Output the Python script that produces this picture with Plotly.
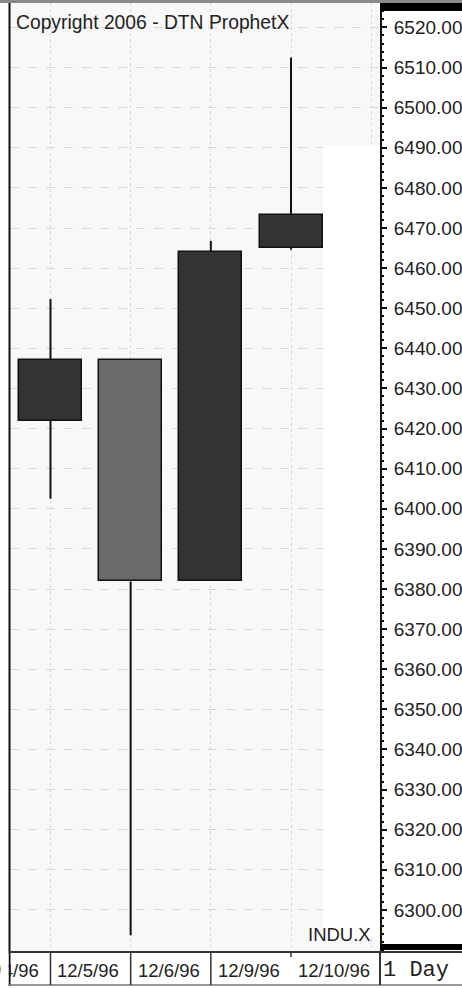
import plotly.graph_objects as go

# daily bars, DJIA (INDU.X), Dec 1996
dates = ["12/4/96", "12/5/96", "12/6/96", "12/9/96", "12/10/96"]
candle_pos = [1, 2, 3, 4]
opens = [6422.0, 6437.1, 6381.9, 6465.0]
highs = [6452.3, 6437.1, 6466.8, 6512.5]
lows = [6402.5, 6293.7, 6381.9, 6464.6]
closes = [6437.1, 6381.9, 6463.9, 6473.3]
price_ticks = list(range(6300, 6521, 10))

W_FIG, H_FIG = 462, 988
L, R, T, B = 10, 380, 3, 952
X_RANGE = [0.495, 5.11]
FONT = "Liberation Sans, Arial, sans-serif"


def px(x):
    return (x - L) / (R - L)


def py(y):
    return (B - y) / (B - T)


def xpaper(i):
    return (i - X_RANGE[0]) / (X_RANGE[1] - X_RANGE[0])


body_base = [min(o, c) for o, c in zip(opens, closes)]
body_height = [abs(c - o) for o, c in zip(opens, closes)]
body_color = ["#333333" if c >= o else "#6a6a6a" for o, c in zip(opens, closes)]

wick_x, wick_y = [], []
for x, o, h, l, c in zip(candle_pos, opens, highs, lows, closes):
    top, bot = max(o, c), min(o, c)
    if h > top:
        wick_x += [x, x, None]
        wick_y += [h, top, None]
    if l < bot:
        wick_x += [x, x, None]
        wick_y += [bot, l, None]

fig = go.Figure()
fig.add_trace(
    go.Scatter(
        x=wick_x, y=wick_y, mode="lines",
        line={"color": "#111111", "width": 2},
        hoverinfo="skip", showlegend=False,
    )
)
fig.add_trace(
    go.Bar(
        x=candle_pos, y=body_height, base=body_base, width=0.786,
        marker={"color": body_color, "line": {"color": "#111111", "width": 1.5}},
        showlegend=False,
    )
)

# blank area at the right edge of the price pane
fig.add_shape(type="rect", xref="x", yref="y", x0=4.40, x1=5.2, y0=6293.0, y1=6490.7,
              fillcolor="#ffffff", line={"width": 0}, layer="between")

frame = [
    # top strip and black header over the scale
    dict(x0=px(0), x1=px(W_FIG), y0=py(0), y1=py(3), fillcolor="#8a8a8a"),
    dict(x0=px(380), x1=px(W_FIG), y0=py(3), y1=py(11), fillcolor="#000000"),
    # thick bar at the foot of the scale
    dict(x0=px(380), x1=px(W_FIG), y0=py(944), y1=py(950), fillcolor="#000000"),
]
for f in frame:
    fig.add_shape(type="rect", xref="paper", yref="paper", line={"width": 0}, **f)

lines = [
    (9.5, 3, 9.5, 986, "#111111", 2),
    (9, 952, W_FIG, 952, "#333333", 2),
    (9, 985, W_FIG, 985, "#777777", 1.5),
    (380, 952, 380, 985, "#333333", 2),
]
for x0, y0, x1, y1, col, w in lines:
    fig.add_shape(type="line", xref="paper", yref="paper", x0=px(x0), x1=px(x1),
                  y0=py(y0), y1=py(y1), line={"color": col, "width": w})

# date row separators
for x in [1, 2, 3]:
    fig.add_shape(type="line", xref="x", yref="paper", x0=x, x1=x, y0=py(952), y1=py(985),
                  line={"color": "#333333", "width": 1.5})
fig.add_shape(type="line", xref="x", yref="paper", x0=4, x1=4, y0=py(952), y1=py(957),
              line={"color": "#333333", "width": 1.5})

for i, d in enumerate(dates):
    fig.add_annotation(x=xpaper(i), xref="paper", y=py(970), yref="paper", text=d, showarrow=False,
                       xanchor="left", yanchor="middle", xshift=5,
                       font={"family": FONT, "size": 18.5, "color": "#222222"})
# hide what runs past the left border
fig.add_annotation(x=px(0), xref="paper", y=py(969), yref="paper", text=" ", showarrow=False,
                   xanchor="left", yanchor="middle", width=7, height=30, bgcolor="#ffffff",
                   borderpad=0)

fig.add_annotation(x=px(416), xref="paper", y=py(970), yref="paper", text="1 Day", showarrow=False,
                   xanchor="center", yanchor="middle",
                   font={"family": "Liberation Mono, Courier New, monospace", "size": 22, "color": "#222222"})
fig.add_annotation(x=px(373), xref="paper", y=py(934), yref="paper", text="INDU.X", showarrow=False,
                   xanchor="right", yanchor="middle",
                   font={"family": FONT, "size": 18.5, "color": "#222222"})
fig.add_annotation(x=px(14), xref="paper", y=py(23), yref="paper", text="Copyright 2006 - DTN ProphetX",
                   showarrow=False, xanchor="left", yanchor="middle",
                   font={"family": FONT, "size": 19.3, "color": "#222222"})

fig.update_xaxes(
    range=X_RANGE, tickvals=[0, 1, 2, 3, 4, 5], showticklabels=False, ticks="",
    showgrid=True, gridcolor="#d4d4d4", griddash="dot", gridwidth=1, zeroline=False,
    showline=False, fixedrange=True, automargin=False,
)
fig.update_yaxes(
    side="right", range=[6289.5, 6526.1], tickmode="array", tickvals=price_ticks, tickformat=".2f",
    ticks="outside", ticklen=5, tickwidth=1.5, tickcolor="#111111", ticklabelstandoff=3,
    showline=True, linecolor="#111111", linewidth=2, automargin=False,
    minor={"tickmode": "linear", "tick0": 6300, "dtick": 2, "ticks": "outside", "ticklen": 2,
           "tickcolor": "#111111", "tickwidth": 1.5, "showgrid": False},
    showgrid=True, gridcolor="#d8d8d8", griddash="dash", gridwidth=1, zeroline=False,
    tickfont={"family": FONT, "size": 19, "color": "#222222"}, fixedrange=True,
)
fig.update_layout(
    width=W_FIG, height=H_FIG,
    margin={"l": L, "r": W_FIG - R, "t": T, "b": H_FIG - B, "pad": 0, "autoexpand": False},
    plot_bgcolor="#f8f8f8", paper_bgcolor="#ffffff",
    showlegend=False, bargap=0,
)
fig.write_html(
    "out.html",
    config={"displayModeBar": False},
    post_script="document.body.style.margin='0';document.body.style.overflow='hidden';",
)
